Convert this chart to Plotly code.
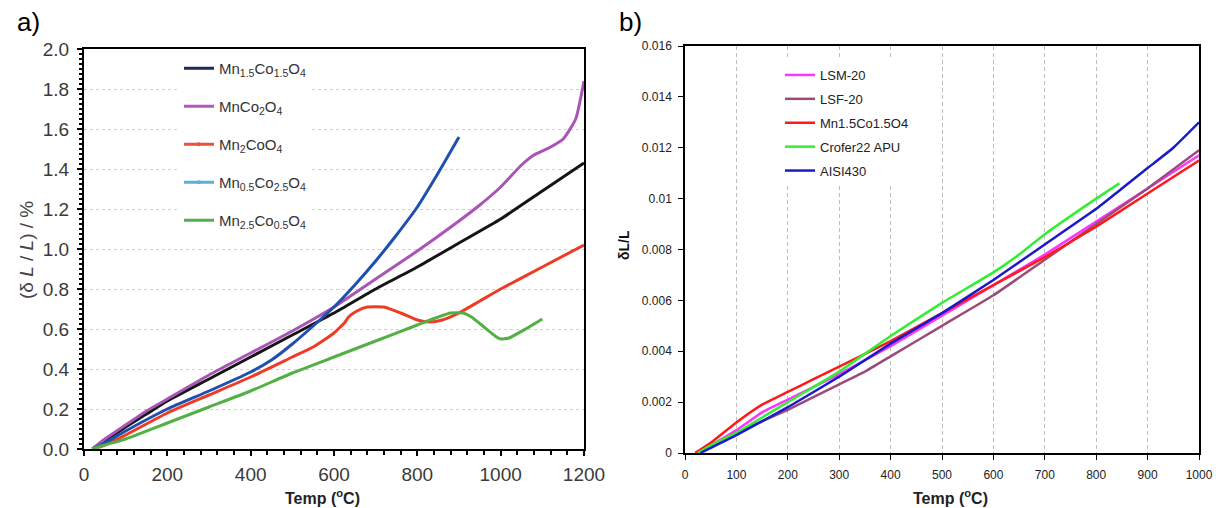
import plotly.graph_objects as go

W, H = 1219, 508
def px(x): return x / W
def py(y): return 1 - y / H

# ---------------- Panel a) data ----------------
a_names = ["Mn<sub>1.5</sub>Co<sub>1.5</sub>O<sub>4</sub>", "MnCo<sub>2</sub>O<sub>4</sub>",
           "Mn<sub>2</sub>CoO<sub>4</sub>", "Mn<sub>0.5</sub>Co<sub>2.5</sub>O<sub>4</sub>",
           "Mn<sub>2.5</sub>Co<sub>0.5</sub>O<sub>4</sub>"]

mn15_x = [20, 50, 100, 150, 200, 300, 400, 500, 600, 700, 800, 900, 1000, 1100, 1200]
mn15_y = [0, 0.04, 0.11, 0.175, 0.24, 0.35, 0.46, 0.57, 0.68, 0.80, 0.91, 1.03, 1.15, 1.29, 1.43]

mnco2_x = [20, 50, 100, 150, 200, 300, 400, 500, 600, 700, 800, 900, 950, 1000, 1050, 1080, 1120, 1150, 1180, 1200]
mnco2_y = [0, 0.05, 0.12, 0.19, 0.25, 0.37, 0.48, 0.59, 0.71, 0.85, 0.99, 1.14, 1.22, 1.31, 1.42, 1.47, 1.51, 1.55, 1.65, 1.84]

mn2co_x = [20, 50, 100, 200, 300, 400, 500, 550, 600, 615, 625, 635, 655, 680, 720, 760, 800, 830, 860, 900, 950, 1000, 1100, 1200]
mn2co_y = [0, 0.02, 0.07, 0.18, 0.27, 0.36, 0.46, 0.51, 0.58, 0.61, 0.63, 0.66, 0.69, 0.71, 0.71, 0.68, 0.645, 0.635, 0.645, 0.68, 0.74, 0.80, 0.91, 1.02]

mn05_x = [20, 50, 100, 200, 300, 400, 450, 500, 550, 600, 650, 700, 750, 800, 850, 900]
mn05_y = [0, 0.03, 0.09, 0.20, 0.29, 0.385, 0.445, 0.525, 0.615, 0.71, 0.82, 0.94, 1.07, 1.21, 1.38, 1.56]

mn25_x = [20, 50, 100, 200, 300, 400, 500, 600, 700, 800, 850, 880, 910, 930, 960, 990, 1000, 1020, 1060, 1100]
mn25_y = [0, 0.02, 0.05, 0.13, 0.21, 0.29, 0.38, 0.46, 0.54, 0.62, 0.66, 0.68, 0.68, 0.66, 0.61, 0.56, 0.55, 0.555, 0.60, 0.65]

a_line_colors = ["#151515", "#A855B5", "#EE3B24", "#1F50B0", "#52B044"]
a_legend_colors = ["#1C2A5C", "#B25AB8", "#E8533A", "#5BB0D8", "#4CAF50"]

# ---------------- Panel b) data ----------------
b_names = ["LSM-20", "LSF-20", "Mn1.5Co1.5O4", "Crofer22 APU", "AISI430"]

lsm_x = [20, 50, 100, 150, 200, 300, 400, 500, 600, 700, 800, 900, 1000]
lsm_y = [0, 0.0003, 0.0009, 0.0016, 0.0021, 0.0031, 0.0042, 0.0054, 0.0066, 0.0078, 0.0091, 0.0104, 0.0117]

lsf_x = [20, 50, 100, 200, 300, 350, 400, 500, 600, 700, 800, 900, 1000]
lsf_y = [0, 0.0003, 0.0008, 0.0017, 0.0027, 0.0032, 0.0038, 0.0050, 0.0062, 0.0076, 0.0090, 0.0104, 0.0119]

mnco_x = [20, 50, 100, 150, 200, 250, 300, 400, 500, 600, 700, 800, 900, 1000]
mnco_y = [0, 0.0004, 0.0012, 0.0019, 0.0024, 0.0029, 0.0034, 0.0044, 0.0055, 0.0066, 0.0077, 0.0089, 0.0102, 0.0115]

crofer_x = [25, 50, 100, 200, 300, 400, 500, 600, 650, 700, 800, 845]
crofer_y = [0, 0.0003, 0.0008, 0.0020, 0.0032, 0.0046, 0.0059, 0.0071, 0.0078, 0.0086, 0.0100, 0.0106]

aisi_x = [30, 50, 100, 200, 300, 400, 500, 600, 700, 800, 850, 900, 950, 1000]
aisi_y = [0, 0.0002, 0.0007, 0.0018, 0.0030, 0.0043, 0.0055, 0.0068, 0.0082, 0.0096, 0.0104, 0.0112, 0.0120, 0.0130]

b_colors = ["#FF33FF", "#9B4A7A", "#FF1A1A", "#33EE33", "#1A1ACC"]

b_yticks = [0, 0.002, 0.004, 0.006, 0.008, 0.01, 0.012, 0.014, 0.016]
b_yticktext = ["0", "0.002", "0.004", "0.006", "0.008", "0.01", "0.012", "0.014", "0.016"]

fig = go.Figure()

a_series = [(mn15_x, mn15_y), (mnco2_x, mnco2_y), (mn2co_x, mn2co_y), (mn05_x, mn05_y), (mn25_x, mn25_y)]
for (xs, ys), c in zip(a_series, a_line_colors):
    fig.add_trace(go.Scatter(x=xs, y=ys, mode="lines", line=dict(color=c, width=3, shape="spline", smoothing=0.5),
                             showlegend=False, xaxis="x", yaxis="y"))
# legend entries for panel a (legend colours differ slightly from the drawn curves)
for i, (n, c) in enumerate(zip(a_names, a_legend_colors)):
    mk = dict(size=4, color=c) if i in (2, 3) else None
    fig.add_trace(go.Scatter(x=[None], y=[None], name=n, mode="lines+markers" if mk else "lines",
                             line=dict(color=c, width=3), marker=mk, legendgroup="a%d" % i,
                             legend="legend", xaxis="x", yaxis="y"))

b_series = [(lsm_x, lsm_y), (lsf_x, lsf_y), (mnco_x, mnco_y), (crofer_x, crofer_y), (aisi_x, aisi_y)]
for i, ((xs, ys), n, c) in enumerate(zip(b_series, b_names, b_colors)):
    fig.add_trace(go.Scatter(x=xs, y=ys, name=n, mode="lines", line=dict(color=c, width=2.5, shape="spline", smoothing=0.4),
                             legendgroup="b%d" % i, legend="legend2", xaxis="x2", yaxis="y2"))

FONT = "Liberation Sans, Arial, sans-serif"

fig.update_layout(
    width=W, height=H, margin=dict(l=0, r=0, t=0, b=0),
    paper_bgcolor="white", plot_bgcolor="white",
    xaxis=dict(domain=[px(84), px(584)], range=[0, 1200], tickvals=[0, 200, 400, 600, 800, 1000, 1200],
               showline=True, linecolor="black", linewidth=2, mirror=True, ticks="outside", ticklen=5,
               tickcolor="black", tickwidth=1.5, showgrid=False, zeroline=False, ticklabelstandoff=2,
               minor=dict(dtick=40, ticks="outside", ticklen=4, tickcolor="black"),
               tickfont=dict(family=FONT, size=19, color="#3a3a3a"), automargin=False),
    yaxis=dict(domain=[py(449), py(49)], range=[0, 2.0], dtick=0.2, tickformat=".1f",
               showline=True, linecolor="black", linewidth=2, mirror=True, ticks="outside", ticklen=5,
               tickcolor="black", tickwidth=1.5, showgrid=True, gridcolor="#cfcfcf", griddash="3px,3px",
               gridwidth=1, zeroline=False, ticklabelstandoff=4,
               minor=dict(dtick=0.025, ticks="outside", ticklen=3, tickcolor="black", showgrid=False),
               tickfont=dict(family=FONT, size=19, color="#3a3a3a"), automargin=False),
    xaxis2=dict(domain=[px(685), px(1199)], range=[0, 1000], dtick=100, anchor="y2",
                showline=True, linecolor="black", linewidth=1.5, mirror=True, ticks="outside", ticklen=5,
                tickcolor="black", showgrid=True, gridcolor="#bdbdbd", griddash="4px,3px", gridwidth=1,
                zeroline=False, ticklabelstandoff=5,
                tickfont=dict(family=FONT, size=12, color="#222"), automargin=False),
    yaxis2=dict(domain=[py(453), py(46)], range=[0, 0.016], tickvals=b_yticks, ticktext=b_yticktext,
                anchor="x2", showline=True, linecolor="black", linewidth=1.5, mirror=True, ticks="outside",
                ticklen=5, tickcolor="black", showgrid=False, zeroline=False, ticklabelstandoff=4,
                tickfont=dict(family=FONT, size=12, color="#222"), automargin=False),
    legend=dict(x=px(179), y=py(52), xanchor="left", yanchor="top", bgcolor="white", borderwidth=0,
                font=dict(family=FONT, size=15, color="#333"), tracegroupgap=15.5, itemwidth=30),
    legend2=dict(x=px(780), y=py(60), xanchor="left", yanchor="top", bgcolor="white", borderwidth=0,
                 font=dict(family=FONT, size=13, color="#222"), tracegroupgap=4, itemwidth=30),
    annotations=[
        dict(text="a)", x=px(28), y=py(22), xref="paper", yref="paper", showarrow=False,
             xanchor="center", yanchor="middle", font=dict(family=FONT, size=26, color="black")),
        dict(text="b)", x=px(631), y=py(22), xref="paper", yref="paper", showarrow=False,
             xanchor="center", yanchor="middle", font=dict(family=FONT, size=26, color="black")),
        dict(text="(δ <i>L</i> / <i>L</i>) / %", x=px(26), y=py(250), xref="paper", yref="paper",
             xanchor="center", yanchor="middle",
             showarrow=False, textangle=-90, font=dict(family=FONT, size=19, color="#444")),
        dict(text="<b>Temp (<sup>o</sup>C)</b>", x=px(322), y=py(497), xref="paper", yref="paper",
             xanchor="center", yanchor="middle",
             showarrow=False, font=dict(family=FONT, size=16, color="#222")),
        dict(text="<b>δL/L</b>", x=px(624), y=py(245), xref="paper", yref="paper",
             xanchor="center", yanchor="middle",
             showarrow=False, textangle=-90, font=dict(family=FONT, size=14, color="#111")),
        dict(text="<b>Temp (<sup>o</sup>C)</b>", x=px(951), y=py(497), xref="paper", yref="paper",
             xanchor="center", yanchor="middle",
             showarrow=False, font=dict(family=FONT, size=16, color="#222")),
    ],
)

fig.write_html("out.html")
